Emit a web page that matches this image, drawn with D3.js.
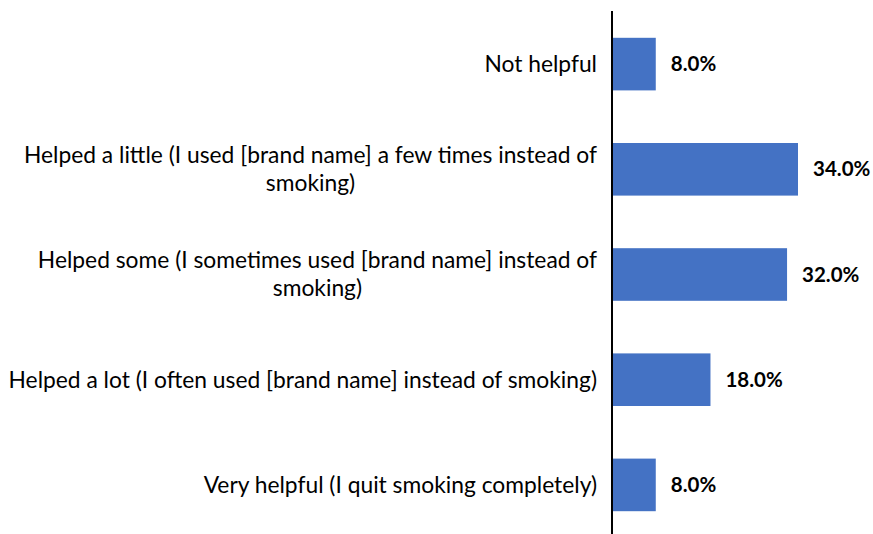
<!DOCTYPE html>
<html>
<head>
<meta charset="utf-8">
<script src="https://cdn.jsdelivr.net/npm/d3@7"></script>
<style>
  html, body { margin: 0; padding: 0; background: #fff; }
  svg { display: block; }
</style>
</head>
<body>
<svg id="chart" width="873" height="534"></svg>
<script>
// Survey responses: how helpful the product was for smoking
const categories = [
  "Not helpful",
  "Helped a little (I used [brand name] a few times instead of smoking)",
  "Helped some (I sometimes used [brand name] instead of smoking)",
  "Helped a lot (I often used [brand name] instead of smoking)",
  "Very helpful (I quit smoking completely)"
];
const values = [8.0, 34.0, 32.0, 18.0, 8.0];

const width = 873, height = 534;
const axisX = 612;
const labelRight = 597;
const labelMaxWidth = 595;
const fontFamily = "Lato, 'Open Sans', sans-serif";

const svg = d3.select("#chart");

const x = d3.scaleLinear().domain([0, 34]).range([axisX, 798]);
const y = d3.scaleBand()
  .domain(categories)
  .range([11.5, 537.5])
  .paddingInner(0.5)
  .paddingOuter(0.25);

// Bars
svg.append("g")
  .selectAll("rect")
  .data(values)
  .join("rect")
  .attr("x", x(0))
  .attr("y", (d, i) => y(categories[i]))
  .attr("width", d => x(d) - x(0))
  .attr("height", y.bandwidth())
  .attr("fill", "#4472C4");

// Vertical axis line
svg.append("line")
  .attr("x1", axisX).attr("x2", axisX)
  .attr("y1", 11).attr("y2", height)
  .attr("stroke", "#000")
  .attr("stroke-width", 2);

// Category labels, wrapped to fit left of the axis
const fontSize = 22.8;
const valueFontSize = 20.5;
const lineHeight = 28;
const measurer = svg.append("text")
  .attr("font-family", fontFamily)
  .attr("font-size", fontSize);
function textWidth(s) {
  measurer.text(s);
  return measurer.node().getComputedTextLength();
}
function wrap(s) {
  const words = s.split(" ");
  const lines = [];
  let cur = "";
  words.forEach(w => {
    const t = cur ? cur + " " + w : w;
    if (cur && textWidth(t) > labelMaxWidth) {
      lines.push(cur);
      cur = w;
    } else {
      cur = t;
    }
  });
  if (cur) lines.push(cur);
  return lines;
}

const labels = svg.append("g")
  .attr("font-family", fontFamily)
  .attr("font-size", fontSize)
  .attr("fill", "#000")
  .attr("text-anchor", "middle");

// Each label block is right-aligned to the axis; its lines are centred in the block
categories.forEach(c => {
  const lines = wrap(c);
  const blockWidth = d3.max(lines, textWidth);
  const cx = labelRight - blockWidth / 2;
  const cy = y(c) + y.bandwidth() / 2;
  const t = labels.append("text")
    .attr("x", cx)
    .attr("y", cy - (lines.length - 1) * lineHeight / 2);
  lines.forEach((ln, k) => {
    t.append("tspan")
      .attr("x", cx)
      .attr("dy", k === 0 ? "0.35em" : lineHeight)
      .text(ln);
  });
});
measurer.remove();

// Value labels
svg.append("g")
  .selectAll("text")
  .data(values)
  .join("text")
  .attr("x", d => x(d) + 15)
  .attr("y", (d, i) => y(categories[i]) + y.bandwidth() / 2)
  .attr("dy", "0.35em")
  .attr("font-family", fontFamily)
  .attr("font-size", valueFontSize)
  .attr("font-weight", "bold")
  .attr("fill", "#000")
  .text(d => d.toFixed(1) + "%");
</script>
</body>
</html>
